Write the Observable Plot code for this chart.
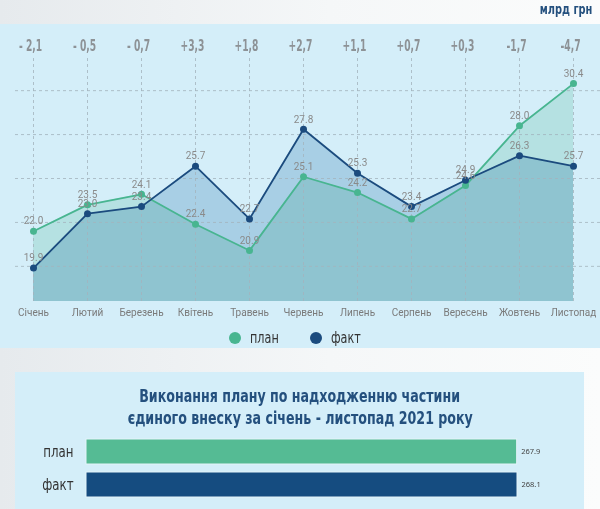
<!DOCTYPE html>
<html><head><meta charset="utf-8">
<script src="https://cdn.jsdelivr.net/npm/d3@7"></script>
<script src="https://cdn.jsdelivr.net/npm/@observablehq/plot@0.6"></script>
<style>
body{margin:0;width:600px;height:509px;overflow:hidden;position:relative;background:linear-gradient(90deg,#e6eaed,#f5f7f8 55%,#fbfcfc);font-family:Roboto,sans-serif}
.narrow{font-family:"Liberation Sans Narrow","DejaVu Sans Condensed",sans-serif}
.sq{display:inline-block;transform:scaleX(0.78)}
#unit{position:absolute;right:8px;top:1px;font-weight:bold;font-size:14px;color:#24507e;transform-origin:right center}
#top{position:absolute;left:0;top:24px;width:600px;height:324px;background:#d4eef9}
#chart{position:absolute;left:0;top:0}
#legend{position:absolute;left:0;top:305px;width:600px;height:18px}
.lg{position:absolute;top:0;display:flex;align-items:center;font-size:16px;color:#333;line-height:18px}
.lg span.d{display:inline-block;width:12px;height:12px;border-radius:50%;margin-right:9px}
.lg span.t{transform-origin:left center}
#bottom{position:absolute;left:15px;top:372px;width:569px;height:137px;background:#d4eef9}
#title{position:absolute;left:0;top:385px;width:600px;text-align:center;font-weight:bold;font-size:18px;line-height:22px;color:#24507e}
#title .sq{transform-origin:center center;white-space:nowrap}
#bars{position:absolute;left:0;top:430px}
</style></head>
<body>
<div id="unit" class="narrow sq">млрд грн</div>
<div id="top"><div id="chart"></div><div id="legend"></div></div>
<div id="bottom"></div>
<div id="title" class="narrow"></div>
<div id="bars"></div>
<script>
const months = ["Січень","Лютий","Березень","Квітень","Травень","Червень","Липень","Серпень","Вересень","Жовтень","Листопад"];
const plan = [22.0, 23.5, 24.1, 22.4, 20.9, 25.1, 24.2, 22.7, 24.6, 28.0, 30.4];
const fact = [19.9, 23.0, 23.4, 25.7, 22.7, 27.8, 25.3, 23.4, 24.9, 26.3, 25.7];
const diffLabels = ["- 2,1","- 0,5","- 0,7","+3,3","+1,8","+2,7","+1,1","+0,7","+0,3","-1,7","-4,7"];
const yTicks = [20, 22.5, 25, 27.5, 30];
const yMin = 18, yMax = 32;
const seriesNames = ["план","факт"];
const seriesColors = ["#48b590","#1b4b7e"];
const titleLines = ["Виконання плану по надходженню частини","єдиного внеску за січень - листопад 2021 року"];
const barLabels = ["план","факт"];
const barValues = [267.9, 268.1];
const barColors = ["#55bb94","#154c80"];

const narrow = '"Liberation Sans Narrow","DejaVu Sans Condensed",sans-serif';
const rows = months.map((m,i)=>({month:m, plan:plan[i], fact:fact[i], diff:diffLabels[i]}));
const gridColor = "#a3b3bd";

// horizontally compress SVG texts around their own anchor point
function squeeze(root, words, ratio){
  Array.from(root.querySelectorAll("text")).filter(t=>words.includes(t.textContent)).forEach(t=>{
    const x = t.getAttribute("x");
    if (x !== null && !isNaN(+x)) t.setAttribute("x", +x / ratio);
    const tr = t.getAttribute("transform") || "";
    t.setAttribute("transform", `${tr} scale(${ratio},1)`);
  });
}

const chart = Plot.plot({
  width:600, height:300, marginTop:31, marginBottom:23, marginLeft:31, marginRight:26,
  style:{background:"#d4eef9", fontFamily:"Roboto, sans-serif", overflow:"visible"},
  x:{type:"point", domain:months, padding:0},
  y:{domain:[yMin,yMax], axis:null},
  marks:[
    Plot.areaY(rows,{x:"month", y1:yMin, y2:"plan", fill:"#daf2e8", mixBlendMode:"multiply"}),
    Plot.areaY(rows,{x:"month", y1:yMin, y2:"fact", fill:"#cadeeb", mixBlendMode:"multiply"}),
    Plot.gridY(yTicks,{stroke:gridColor, strokeOpacity:0.8, strokeDasharray:"3,3", insetLeft:-16, insetRight:-26}),
    Plot.ruleX(months,{x:d=>d, y1:yMin, y2:yMax, stroke:gridColor, strokeOpacity:0.8, strokeDasharray:"3,3"}),
    Plot.lineY(rows,{x:"month", y:"plan", stroke:seriesColors[0], strokeWidth:1.8}),
    Plot.lineY(rows,{x:"month", y:"fact", stroke:seriesColors[1], strokeWidth:1.8}),
    Plot.dot(rows,{x:"month", y:"plan", r:3.5, fill:seriesColors[0]}),
    Plot.dot(rows,{x:"month", y:"fact", r:3.5, fill:seriesColors[1]}),
    Plot.text(rows,{x:"month", y:"plan", text:d=>d.plan.toFixed(1), dy:-10, fill:"#8a8a8a", fontSize:10}),
    Plot.text(rows,{x:"month", y:"fact", text:d=>d.fact.toFixed(1), dy:-10, fill:"#8a8a8a", fontSize:10}),
    Plot.text(rows,{x:"month", text:"diff", frameAnchor:"top", dx:-3, dy:-15, fontSize:15, fontWeight:"bold", fill:"#8d9296", fontFamily:narrow}),
    Plot.axisX({anchor:"bottom", tickSize:0, tickPadding:7, fontSize:10, fill:"#7a7a7a", label:null})
  ]
});
document.getElementById("chart").appendChild(chart);
squeeze(chart, diffLabels, 0.68);

const legend = document.getElementById("legend");
const lgX = [229, 310];
seriesNames.forEach((n,i)=>{
  const el = document.createElement("div");
  el.className = "lg narrow";
  el.style.left = lgX[i] + "px";
  el.innerHTML = `<span class="d" style="background:${seriesColors[i]}"></span><span class="t sq">${n}</span>`;
  legend.appendChild(el);
});

document.getElementById("title").innerHTML = titleLines.map(l=>`<span class="sq">${l}</span>`).join("<br>");

const bars = barLabels.map((l,i)=>({label:l, value:barValues[i]}));
const barChart = Plot.plot({
  width:600, height:79, marginTop:9, marginBottom:11, marginLeft:86, marginRight:83,
  style:{background:"transparent", overflow:"visible"},
  x:{domain:[0, d3.max(barValues)], axis:null},
  y:{domain:barLabels, paddingInner:0.23, paddingOuter:0},
  color:{domain:barLabels, range:barColors},
  marks:[
    Plot.barX(bars,{x:"value", y:"label", fill:"label", stroke:"#e4f3f9", strokeWidth:1}),
    Plot.text(bars,{x:"value", y:"label", text:d=>d.value.toFixed(1), textAnchor:"start", dx:4, fontSize:7.5, fill:"#444"}),
    Plot.axisY({tickSize:0, tickPadding:13, fontSize:16, fontFamily:narrow, fill:"#333", label:null})
  ]
});
document.getElementById("bars").appendChild(barChart);
squeeze(barChart, barLabels, 0.82);
</script>
</body></html>
